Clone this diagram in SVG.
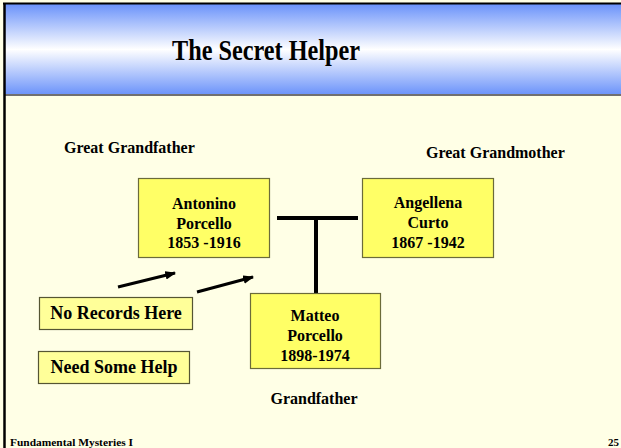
<svg xmlns="http://www.w3.org/2000/svg" width="621" height="448" viewBox="0 0 621 448">
<defs>
<linearGradient id="band" x1="0" y1="0" x2="0" y2="1">
<stop offset="0" stop-color="#6A92FA"/>
<stop offset="0.5" stop-color="#FFFFFF"/>
<stop offset="1" stop-color="#6A92FA"/>
</linearGradient>
<marker id="ah" viewBox="0 0 10 8" refX="9" refY="4" markerWidth="3.6" markerHeight="3" orient="auto" markerUnits="strokeWidth">
<path d="M0,0 L10,4 L0,8 z" fill="#000"/>
</marker>
<style>
.t{font-family:"Liberation Serif","Times New Roman",serif;font-weight:bold;fill:#000}
.bx{fill:#FFFF66;stroke:#6B6B3A;stroke-width:1.2}
.lb{fill:#FFFF99;stroke:#555533;stroke-width:1.2}
.n{font-size:16px;text-anchor:middle}
.c{stroke:#000;stroke-width:4;fill:none}
.a{stroke:#000;stroke-width:3;fill:none;marker-end:url(#ah)}
</style>
</defs>
<rect x="0" y="0" width="621" height="448" fill="#FFFFE6"/>
<rect x="4" y="4" width="617" height="91" fill="url(#band)"/>
<line x1="4" y1="95" x2="621" y2="95" stroke="#707070" stroke-width="2"/>
<line x1="3" y1="3.5" x2="621" y2="3.5" stroke="#000" stroke-width="2"/>
<line x1="4.5" y1="3" x2="4.5" y2="448" stroke="#000" stroke-width="2.5"/>
<text class="t" x="266" y="60" font-size="30" text-anchor="middle" textLength="188" lengthAdjust="spacingAndGlyphs">The Secret Helper</text>

<text class="t" x="64" y="153" font-size="16">Great Grandfather</text>
<text class="t" x="426" y="158" font-size="16">Great Grandmother</text>
<text class="t" x="314" y="404" font-size="16" text-anchor="middle">Grandfather</text>

<g id="connectors">
<polyline class="c" points="277,218 358,218"/>
<line class="c" x1="316" y1="218" x2="316" y2="296"/>
<line class="a" x1="118" y1="287" x2="175" y2="273"/>
<line class="a" x1="197" y1="292" x2="253" y2="277"/>
</g>

<g id="antonino">
<rect class="bx" x="138.5" y="178.5" width="131" height="79"/>
<text class="t n" x="204" y="209">Antonino</text>
<text class="t n" x="204" y="229">Porcello</text>
<text class="t n" x="204" y="248">1853 -1916</text>
</g>
<g id="angellena">
<rect class="bx" x="362.5" y="178.5" width="131" height="79"/>
<text class="t n" x="428" y="208">Angellena</text>
<text class="t n" x="428" y="228">Curto</text>
<text class="t n" x="428" y="248">1867 -1942</text>
</g>
<g id="matteo">
<rect class="bx" x="250.5" y="293.5" width="130" height="75"/>
<text class="t n" x="315" y="321">Matteo</text>
<text class="t n" x="315" y="341">Porcello</text>
<text class="t n" x="315" y="361">1898-1974</text>
</g>
<g id="norecords">
<rect class="lb" x="39.5" y="297.5" width="153" height="32"/>
<text class="t" x="116" y="319" font-size="18" text-anchor="middle">No Records Here</text>
</g>
<g id="needhelp">
<rect class="lb" x="38.5" y="351.5" width="151" height="32"/>
<text class="t" x="114" y="373" font-size="18" text-anchor="middle">Need Some Help</text>
</g>

<text class="t" x="10" y="446" font-size="11" textLength="123" lengthAdjust="spacingAndGlyphs">Fundamental Mysteries I</text>
<text class="t" x="619" y="446" font-size="11" text-anchor="end">25</text>
</svg>
